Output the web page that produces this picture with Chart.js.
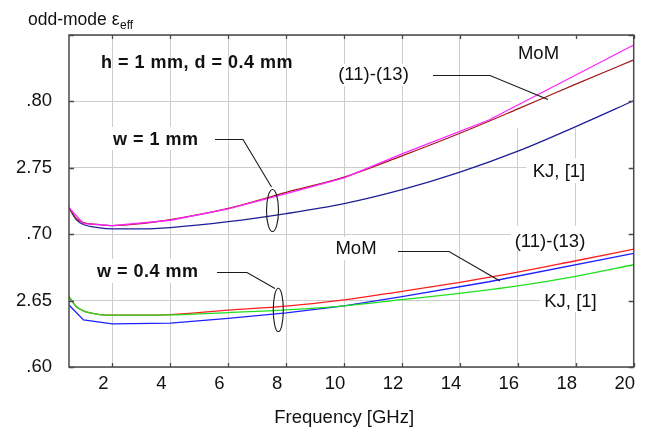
<!DOCTYPE html>
<html><head><meta charset="utf-8">
<script src="https://cdn.jsdelivr.net/npm/chart.js@4.4.1/dist/chart.umd.min.js"></script>
<style>html,body{margin:0;padding:0;background:#fff;} #wrap{width:650px;height:428px;position:relative;}</style>
</head><body><div id="wrap"><canvas id="c"></canvas></div>
<script>
// ---- data ----
const xTicks = [2, 4, 6, 8, 10, 12, 14, 16, 18, 20];
const yTicks = [2.60, 2.65, 2.70, 2.75, 2.80, 2.85];
const yTickLabels = ['.60', '2.65', '.70', '2.75', '.80', ''];

const freqAnalytic = [0.5, 0.75, 1, 1.5, 2, 3, 4, 6, 8, 10, 12, 14, 16, 18, 20];
const w1_eq  = [2.720, 2.7118, 2.7088, 2.7073, 2.7065, 2.708, 2.711, 2.7195, 2.7315, 2.743, 2.759, 2.776, 2.7943, 2.813, 2.8312];
const w1_kj  = [2.720, 2.711, 2.7073, 2.705, 2.704, 2.704, 2.705, 2.7094, 2.7155, 2.723, 2.7335, 2.7467, 2.7625, 2.781, 2.8005];
const w04_eq = [2.653, 2.6455, 2.6422, 2.6397, 2.639, 2.639, 2.6395, 2.6428, 2.6458, 2.6505, 2.657, 2.6638, 2.6714, 2.680, 2.6887];
const w04_kj = [2.653, 2.6455, 2.6422, 2.6397, 2.639, 2.639, 2.6392, 2.641, 2.643, 2.646, 2.6507, 2.6555, 2.6611, 2.6683, 2.677];

const freqMoM = [0.5, 1, 2, 4, 6, 8, 10, 12, 15, 20];
const w1_mom  = [2.720, 2.708, 2.7065, 2.7105, 2.719, 2.7305, 2.7425, 2.7605, 2.786, 2.8425];
const w04_mom = [2.6467, 2.6355, 2.6325, 2.633, 2.6366, 2.6408, 2.646, 2.653, 2.6642, 2.6855];

// ---- helpers ----
const FONT = '"Liberation Sans", Arial, sans-serif';
function pts(xs, ys) { return xs.map((x, i) => ({x: x, y: ys[i]})); }
function ds(xs, ys, color, smooth) {
  return {
    data: pts(xs, ys), borderColor: color, borderWidth: 1.3, pointRadius: 0,
    fill: false, tension: 0, cubicInterpolationMode: smooth ? 'monotone' : 'default'
  };
}

const annot = {
  id: 'annot',
  beforeDatasetsDraw(chart) {
    const ctx = chart.ctx;
    ctx.save();
    ctx.fillStyle = '#ffffff';
    const boxes = [
      [511, 36, 638, 128],   // upper MoM area
      [335, 64, 412, 86],    // upper (11)-(13)
      [108, 127, 202, 150],  // w = 1 mm
      [526, 158, 638, 183],  // upper KJ
      [511, 226, 638, 250],  // lower (11)-(13)
      [330, 237, 382, 260],  // lower MoM
      [92, 259, 200, 283],   // w = 0.4 mm
      [540, 290, 638, 312]   // lower KJ
    ];
    boxes.forEach(b => ctx.fillRect(b[0], b[1], b[2] - b[0], b[3] - b[1]));
    ctx.restore();
  },
  afterDatasetsDraw(chart) {
    const ctx = chart.ctx;
    const a = chart.chartArea;
    const xs = chart.scales.x, ys = chart.scales.y;
    ctx.save();
    // frame
    ctx.strokeStyle = '#4a4a4a';
    ctx.lineWidth = 1.5;
    ctx.strokeRect(a.left, a.top, a.right - a.left, a.bottom - a.top);
    // inward tick marks
    ctx.lineWidth = 1.3;
    ctx.beginPath();
    xTicks.forEach(v => {
      const p = Math.round(xs.getPixelForValue(v)) + 0.5;
      ctx.moveTo(p, a.top); ctx.lineTo(p, a.top + 4);
      ctx.moveTo(p, a.bottom); ctx.lineTo(p, a.bottom - 4);
    });
    yTicks.forEach(v => {
      const p = Math.round(ys.getPixelForValue(v)) + 0.5;
      ctx.moveTo(a.left, p); ctx.lineTo(a.left + 5, p);
      ctx.moveTo(a.right, p); ctx.lineTo(a.right - 5, p);
    });
    ctx.stroke();

    // leader lines & ellipses
    ctx.strokeStyle = '#1a1a1a';
    ctx.lineWidth = 1.1;
    const poly = (arr) => { ctx.beginPath(); ctx.moveTo(arr[0][0], arr[0][1]); for (let i = 1; i < arr.length; i++) ctx.lineTo(arr[i][0], arr[i][1]); ctx.stroke(); };
    poly([[215, 139.5], [243, 139.5], [271.5, 187]]);
    poly([[433, 75.5], [490, 75.5], [548, 99.5]]);
    poly([[217, 272.5], [247, 272.5], [275, 288.5]]);
    poly([[398, 251.5], [449, 251.5], [500, 281]]);
    ctx.beginPath(); ctx.ellipse(272.5, 210.5, 6, 21, 0, 0, Math.PI * 2); ctx.stroke();
    ctx.beginPath(); ctx.ellipse(278.3, 310, 5, 21.7, 0, 0, Math.PI * 2); ctx.stroke();

    // texts
    ctx.fillStyle = '#111111';
    ctx.textBaseline = 'alphabetic';
    ctx.textAlign = 'left';
    ctx.font = '17.5px ' + FONT;
    ctx.fillText('odd-mode ε', 28, 25);
    const wTitle = ctx.measureText('odd-mode ε').width;
    ctx.font = '12px ' + FONT;
    ctx.fillText('eff', 28 + wTitle + 0.5, 28.5);

    ctx.font = 'bold 18px ' + FONT;
    try { ctx.letterSpacing = '0.5px'; } catch (e) {}
    ctx.fillText('h = 1 mm, d = 0.4 mm', 101, 67.5);
    ctx.fillText('w = 1 mm', 113, 145);
    ctx.fillText('w = 0.4 mm', 97, 276.5);
    try { ctx.letterSpacing = '0px'; } catch (e) {}

    ctx.font = '18.5px ' + FONT;
    ctx.textAlign = 'center';
    ctx.fillText('MoM', 538.5, 59.3);
    ctx.fillText('(11)-(13)', 373.5, 80.3);
    ctx.fillText('KJ, [1]', 559, 176.7);
    ctx.fillText('(11)-(13)', 550, 246.7);
    ctx.fillText('MoM', 356, 254.3);
    ctx.fillText('KJ, [1]', 570.5, 307.3);
    ctx.fillText('Frequency [GHz]', 344.2, 422.5);
    ctx.restore();
  }
};

new Chart(document.getElementById('c'), {
  type: 'line',
  data: {
    datasets: [
      ds(freqMoM, w1_mom, '#ff22ff', false),
      ds(freqAnalytic, w1_eq, '#a01c1c', true),
      ds(freqAnalytic, w1_kj, '#1e1e96', true),
      ds(freqAnalytic, w04_kj, '#1ee01e', true),
      ds(freqAnalytic, w04_eq, '#ff1e1e', true),
      ds(freqMoM, w04_mom, '#2020ff', false)
    ]
  },
  options: {
    responsive: true,
    maintainAspectRatio: false,
    animation: false,
    events: [],
    layout: {padding: {left: 0, right: 11, top: 35, bottom: 0}},
    plugins: {legend: {display: false}, tooltip: {enabled: false}, title: {display: false}},
    scales: {
      x: {
        type: 'linear', min: 0.5, max: 20,
        afterBuildTicks: (s) => { s.ticks = xTicks.map(v => ({value: v})); },
        afterFit: (s) => { s.height = 61; },
        grid: {color: '#cdcdcd', lineWidth: 1, drawTicks: false},
        border: {display: false},
        ticks: {
          font: {family: FONT, size: 18.5}, color: '#111111', padding: 6, labelOffset: -9,
          maxRotation: 0, autoSkip: false,
          callback: (v) => String(v)
        }
      },
      y: {
        type: 'linear', min: 2.60, max: 2.85,
        afterBuildTicks: (s) => { s.ticks = yTicks.map(v => ({value: v})); },
        afterFit: (s) => { s.width = 69; },
        grid: {color: '#cdcdcd', lineWidth: 1, drawTicks: false},
        border: {display: false},
        ticks: {
          font: {family: FONT, size: 18.5}, color: '#111111', padding: 17, autoSkip: false,
          callback: (v, i) => yTickLabels[i]
        }
      }
    }
  },
  plugins: [annot]
});
</script>
</body></html>
